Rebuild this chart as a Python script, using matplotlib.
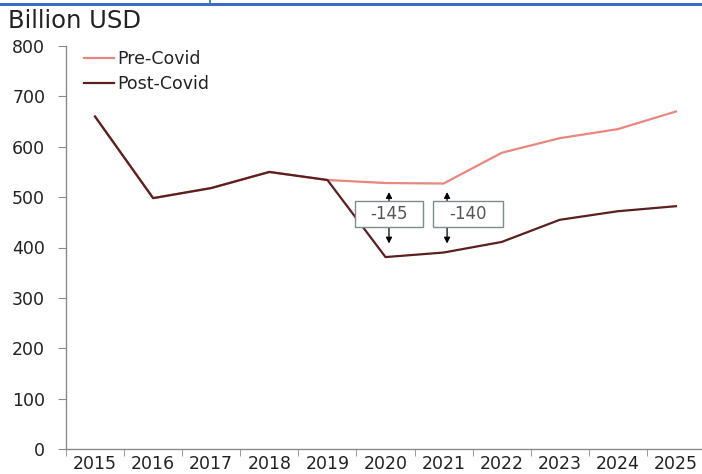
import matplotlib
matplotlib.use("Agg")
import matplotlib.pyplot as plt
from matplotlib.lines import Line2D
from matplotlib.patches import Rectangle
from matplotlib.ticker import FixedLocator

years = ["2015", "2016", "2017", "2018", "2019", "2020", "2021", "2022", "2023", "2024", "2025"]
pre_covid = [660, 498, 518, 550, 534, 528, 527, 588, 617, 635, 670]
post_covid = [660, 498, 518, 550, 534, 381, 390, 411, 455, 472, 482]
gap_labels = ["-145", "-140"]
gap_years = ["2020", "2021"]

plt.rcParams['font.family'] = ['DejaVu Sans']

fig = plt.figure(figsize=(7.02, 4.74), dpi=100)
ax = fig.add_axes([66/702, 1-449/474, 639/702, (449-46)/474])

x = list(range(len(years)))
ax.plot(x, pre_covid, color="#E8877E", lw=1.6, label="Pre-Covid", zorder=3)
ax.plot(x, post_covid, color="#5B1F20", lw=1.6, label="Post-Covid", zorder=4)

ax.set_xlim(-0.5, len(years) - 0.5)
ax.set_ylim(0, 800)
ax.set_yticks(range(0, 801, 100))
ax.set_xticks(x)
ax.set_xticklabels(years)
ax.xaxis.set_minor_locator(FixedLocator([i - 0.5 for i in range(len(years) + 1)]))
ax.tick_params(axis='x', which='major', length=0, pad=4, labelsize=12.5, labelcolor="#222222")
ax.tick_params(axis='x', which='minor', length=5, color="#8A8A8A", direction='out')
ax.tick_params(axis='y', length=6, color="#8A8A8A", direction='out', labelsize=12.5,
               labelcolor="#222222", pad=9)
for s in ["top", "right"]:
    ax.spines[s].set_visible(False)
for s in ["left", "bottom"]:
    ax.spines[s].set_color("#8A8A8A")
    ax.spines[s].set_linewidth(1.0)

leg = ax.legend(loc="upper left", bbox_to_anchor=(0.012, 1.015), frameon=False,
                fontsize=12.5, handlelength=1.75, handletextpad=0.15, labelspacing=0.4,
                borderaxespad=0.2)
for t in leg.get_texts():
    t.set_color("#222222")

# gap annotations
arrow_dx = 0.06
for lab, yr in zip(gap_labels, gap_years):
    i = years.index(yr)
    ax.annotate("", xy=(i + arrow_dx, 408), xytext=(i + arrow_dx, 510),
                arrowprops=dict(arrowstyle="<|-|>,head_length=0.35,head_width=0.18",
                                color="black", lw=0.9, shrinkA=0, shrinkB=0), zorder=5)
box_left = [4.475, 5.82]
box_width = [1.17, 1.20]
box_bottom, box_top = 441, 492
for lab, bl, bw in zip(gap_labels, box_left, box_width):
    ax.add_patch(Rectangle((bl, box_bottom), bw, box_top - box_bottom, fc="white",
                           ec="#7F8C8D", lw=1.0, zorder=6))
    ax.text(bl + bw / 2, (box_bottom + box_top) / 2, lab, ha="center", va="center",
            fontsize=12, color="#555555", zorder=7)

fig.text(0.011, 0.956, "Billion USD", fontsize=17.5, color="#222222", ha="left", va="center")

# top blue rule
fig.add_artist(Line2D([0, 1], [1 - 4/474, 1 - 4/474], color="#3A6FC0", lw=2.2))
fig.add_artist(Line2D([210/702, 210/702], [1 - 4/474, 1.0], color="#3A6FC0", lw=1.2))

fig.savefig("out.png", dpi=100)
